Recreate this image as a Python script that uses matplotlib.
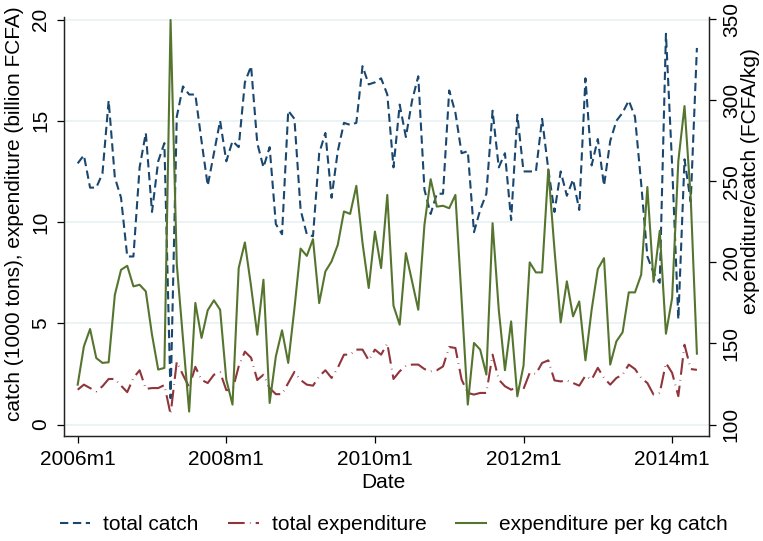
import numpy as np
import matplotlib.pyplot as plt

plt.rcParams['font.family'] = ['Liberation Sans', 'DejaVu Sans']

# monthly data, 2006m1 .. 2014m5
total_catch = [
    12.9, 13.3, 11.7, 11.7, 12.4, 16.0, 12.2, 11.2, 8.3, 8.3,
    12.7, 14.4, 10.5, 13.0, 13.9, 1.3, 15.2, 16.7, 16.3, 16.3,
    14.0, 11.8, 13.4, 15.0, 13.0, 14.0, 13.7, 16.9, 17.7, 13.9,
    12.7, 13.7, 9.9, 9.4, 15.5, 15.1, 10.6, 9.4, 9.3, 13.4,
    14.4, 11.2, 13.5, 14.9, 14.8, 14.9, 17.7, 16.8, 16.9, 17.1,
    16.3, 12.7, 15.8, 14.2, 16.0, 17.2, 11.6, 10.4, 11.4, 11.4,
    16.5, 15.4, 13.4, 13.5, 9.5, 10.6, 11.4, 15.5, 12.7, 13.4,
    10.1, 15.3, 12.5, 12.5, 12.5, 15.1, 12.6, 10.5, 12.5, 11.3,
    12.1, 10.6, 17.1, 12.8, 14.1, 11.8, 14.0, 15.0, 15.4, 16.0,
    15.2, 11.9, 8.3, 7.5, 7.0, 19.3, 12.8, 5.2, 13.1, 11.0,
    18.6,
]
total_expenditure = [
    1.72, 1.97, 1.80, 1.64, 1.89, 2.25, 2.25, 1.92, 1.60, 2.30,
    2.68, 1.76, 1.80, 1.80, 1.95, 0.50, 3.10, 2.45, 1.85, 2.85,
    2.20, 2.05, 2.46, 2.58, 1.70, 1.70, 2.87, 3.60, 3.30, 2.20,
    2.46, 1.80, 1.50, 1.50, 2.05, 2.60, 2.20, 1.97, 1.92, 2.38,
    2.68, 2.30, 2.80, 3.45, 3.45, 3.70, 3.70, 3.17, 3.70, 3.45,
    4.00, 2.25, 2.63, 2.90, 2.96, 2.96, 2.74, 2.63, 2.68, 2.87,
    3.83, 3.78, 2.22, 1.56, 1.48, 1.56, 1.56, 3.45, 2.22, 1.89,
    1.72, 1.85, 1.76, 2.55, 2.50, 3.04, 3.17, 2.18, 2.13, 2.18,
    2.05, 1.92, 2.41, 2.22, 2.80, 2.30, 1.97, 2.30, 2.46, 2.96,
    2.74, 2.30, 2.05, 1.48, 1.56, 3.04, 2.55, 1.40, 3.94, 2.74,
    2.70,
]
exp_per_kg = [
    124.6, 148.2, 158.9, 141.0, 138.0, 138.4, 180.0, 195.4, 197.9, 185.2,
    186.2, 182.1, 155.4, 133.9, 134.9, 349.5, 199.0, 153.0, 108.0, 175.0,
    153.4, 170.5, 176.6, 170.8, 127.7, 112.3, 196.5, 212.3, 185.2, 155.4,
    189.3, 113.3, 142.0, 158.1, 138.0, 171.5, 208.5, 204.0, 214.3, 174.9,
    194.4, 200.6, 210.8, 231.4, 229.9, 247.2, 211.9, 184.2, 219.0, 196.5,
    241.6, 173.3, 161.6, 205.7, 188.3, 170.8, 223.2, 251.3, 234.4, 234.9,
    233.4, 241.6, 177.0, 112.3, 150.3, 146.2, 130.8, 224.2, 170.8, 133.5,
    163.6, 117.4, 136.3, 200.0, 193.8, 193.8, 257.4, 207.8, 163.0, 188.3,
    166.7, 175.9, 139.6, 170.8, 195.9, 202.6, 137.0, 151.3, 156.9, 181.5,
    181.5, 192.4, 246.5, 188.0, 219.5, 156.0, 178.0, 262.5, 296.4, 240.0,
    143.7,
]

xtick_pos = [0, 24, 48, 72, 96]
xtick_labels = ["2006m1", "2008m1", "2010m1", "2012m1", "2014m1"]
left_ticks = [0, 5, 10, 15, 20]
right_ticks = [100, 150, 200, 250, 300, 350]

months = np.arange(len(total_catch))

navy = "#1a476f"
maroon = "#90353b"
green = "#55752f"

fig = plt.figure(figsize=(7.63, 5.41), dpi=100)
ax = fig.add_axes([0.0843, 0.1946, 0.8453, 0.7748])
ax2 = ax.twinx()

l1, = ax.plot(months, total_catch, color=navy, lw=1.5, dashes=(4, 2.2),
              label="total catch")
l2, = ax.plot(months, total_expenditure, color=maroon, lw=1.5,
              dashes=(8, 2.5, 0.3, 2.5), label="total expenditure")
l3, = ax2.plot(months, exp_per_kg, color=green, lw=1.5,
               label="expenditure per kg catch")

ax.set_xlim(-2.16, 102.0)
ax.set_ylim(-0.553, 20.15)
ax2.set_ylim(93.1, 351.6)

ax.set_xticks(xtick_pos)
ax.set_xticklabels(xtick_labels)
ax.set_yticks(left_ticks)
ax.set_yticklabels([str(v) for v in left_ticks], rotation=90, va="center")
ax2.set_yticks(right_ticks)
ax2.set_yticklabels([str(v) for v in right_ticks], rotation=90, va="center")

ax.grid(axis="y", color="#eaf2f3", lw=1.3)
ax.set_axisbelow(True)

for a in (ax, ax2):
    a.spines["top"].set_visible(False)
    for s in ("left", "right", "bottom"):
        a.spines[s].set_linewidth(0.9)
        a.spines[s].set_color("#222222")
ax.tick_params(axis="both", labelsize=15, length=5, width=0.9, pad=5)
ax2.tick_params(axis="y", labelsize=15, length=5, width=0.9, pad=4)

fig.text(15 / 763, 1 - 214 / 541, "catch (1000 tons), expenditure (billion FCFA)",
         rotation=90, ha="center", va="center", fontsize=15)
fig.text(750 / 763, 1 - 181 / 541, "expenditure/catch (FCFA/kg)",
         rotation=90, ha="center", va="center", fontsize=15)
fig.text(383 / 763, 1 - 482 / 541, "Date", ha="center", va="center", fontsize=15)

fig.legend(handles=[l1, l2, l3], loc="center", ncol=3, frameon=False,
           bbox_to_anchor=(394 / 763, 1 - 525 / 541), fontsize=15,
           handlelength=1.45, handletextpad=0.62, columnspacing=1.44)

fig.savefig("out.png", dpi=100)
